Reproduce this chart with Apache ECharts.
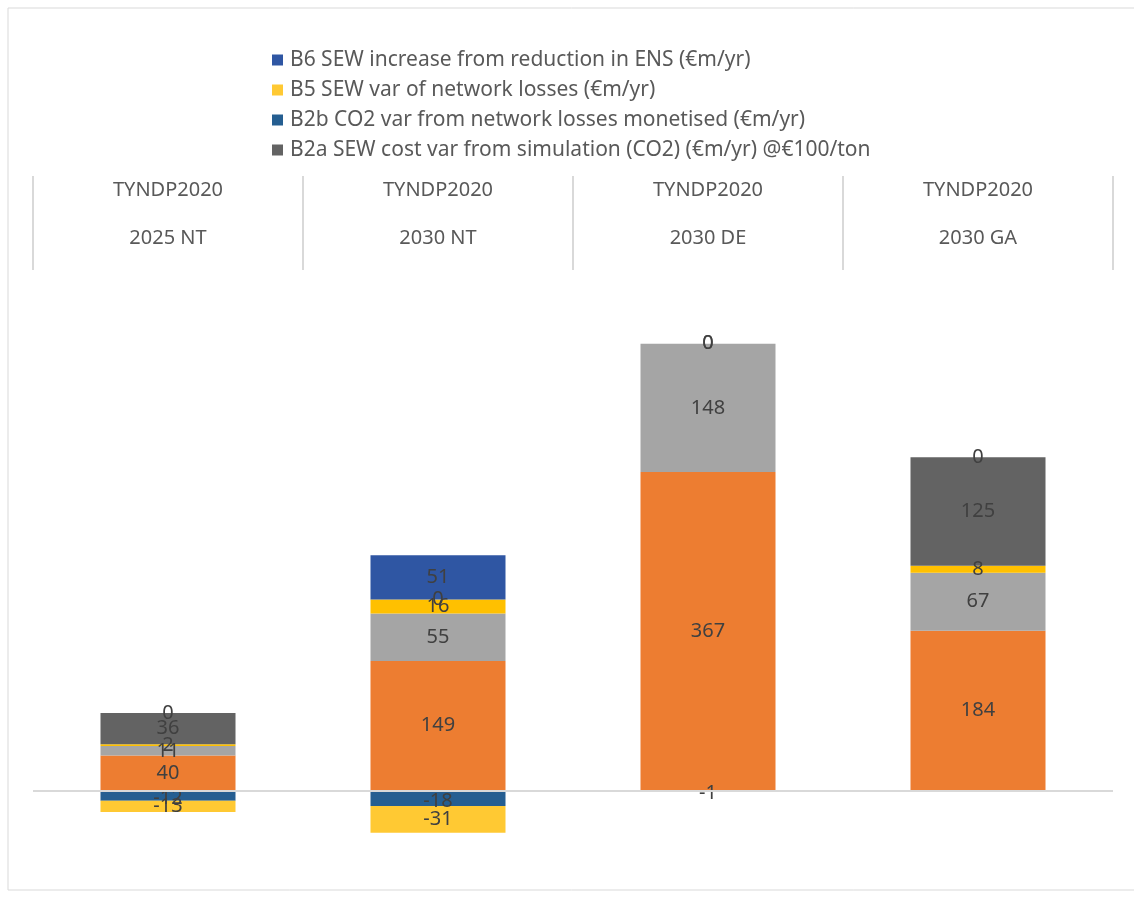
<!DOCTYPE html>
<html>
<head>
<meta charset="utf-8">
<script src="https://cdn.jsdelivr.net/npm/echarts@6/dist/echarts.min.js"></script>
<style>
  html, body { margin: 0; padding: 0; background: #fff; }
  #main { width: 1134px; height: 898px; }
</style>
</head>
<body>
<div id="main"></div>
<script>
// categories (two-level header)
var groups = ['TYNDP2020', 'TYNDP2020', 'TYNDP2020', 'TYNDP2020'];
var scenarios = ['2025 NT', '2030 NT', '2030 DE', '2030 GA'];

// series values, in stacking order (bottom first)
var b1Values  = [40, 149, 367, 184];        // orange
var b3Values  = [11, 55, 148, 67];          // light grey
var b4Values  = [2, 16, null, 8];           // gold
var b2aValues = [36, 0, 0, 125];            // B2a
var b2bValues = [-12, -18, -1, null];       // B2b
var b5Values  = [-13, -31, null, null];     // B5
var b6Values  = [0, 51, 0, 0];              // B6

var legendNames = [
    'B6 SEW increase from reduction in ENS (€m/yr)',
    'B5 SEW var of network losses (€m/yr)',
    'B2b CO2 var from network losses monetised (€m/yr)',
    'B2a SEW cost var from simulation (CO2) (€m/yr) @€100/ton'
];

var font = 'Noto Sans';
var myChart = echarts.init(document.getElementById('main'));

// stacked bar helper; zero values of the upper series should sit on the positive stack
function bar(name, data, color, strategy) {
    return {
        name: name,
        type: 'bar',
        stack: 'total',
        stackStrategy: strategy || 'samesign',
        barWidth: '50%',
        data: data,
        itemStyle: { color: color },
        label: {
            show: true,
            position: 'inside',
            color: '#404040',
            fontSize: 20,
            fontFamily: font,
            formatter: function (p) { return p.value == null ? '' : p.value; }
        }
    };
}

var series = [
    bar('B1', b1Values, '#ED7D31'),
    bar('B3', b3Values, '#A5A5A5'),
    bar('B4', b4Values, '#FFC000'),
    bar(legendNames[3], b2aValues, '#636363', 'positive'),
    bar(legendNames[2], b2bValues, '#255E91', 'negative'),
    bar(legendNames[1], b5Values, '#FFC933'),
    bar(legendNames[0], b6Values, '#2F56A3', 'positive')
];
// the small negative labels sit just under the zero line
series[4].label.offset = [0, 3];
series[0].markLine = {
    silent: true,
    symbol: ['none', 'none'],
    label: { show: false },
    lineStyle: { color: '#d9d9d9', width: 2, type: 'solid' },
    data: [{ yAxis: 0 }]
};

var option = {
    animation: false,
    backgroundColor: '#fff',
    graphic: [{
        type: 'rect',
        shape: { x: 8, y: 8, width: 1140, height: 882 },
        style: { fill: 'none', stroke: '#d9d9d9', lineWidth: 1 },
        silent: true
    }],
    legend: {
        orient: 'vertical',
        left: 267,
        top: 44,
        itemWidth: 11,
        itemHeight: 11,
        itemGap: 8,
        icon: 'rect',
        data: legendNames,
        textStyle: { color: '#595959', fontSize: 21, lineHeight: 22, fontFamily: font, padding: [0, 0, 0, 2] }
    },
    grid: { left: 33, right: 21, top: 270, bottom: 21 },
    xAxis: {
        type: 'category',
        position: 'top',
        data: scenarios,
        axisLine: { show: false, onZero: false },
        axisTick: { show: true, length: 94, lineStyle: { color: '#d9d9d9', width: 2 } },
        axisLabel: {
            margin: 8,
            formatter: function (v, i) { return '{g|' + groups[i] + '}\n{s|' + v + '}'; },
            rich: {
                g: { color: '#595959', fontSize: 20, fontFamily: font, lineHeight: 48 },
                s: { color: '#595959', fontSize: 20, fontFamily: font, lineHeight: 48 }
            }
        }
    },
    yAxis: {
        type: 'value',
        min: -100,
        max: 600,
        show: false,
        splitLine: { show: false }
    },
    series: series
};
myChart.setOption(option);
</script>
</body>
</html>
